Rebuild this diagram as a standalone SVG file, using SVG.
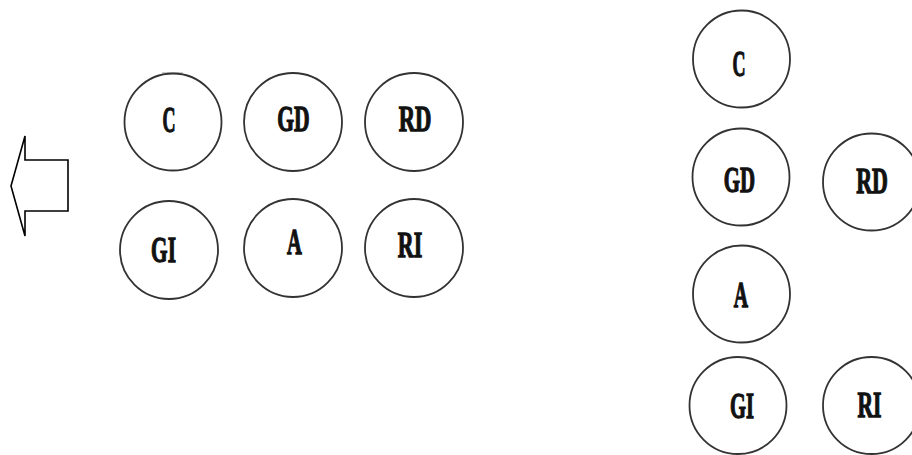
<svg xmlns="http://www.w3.org/2000/svg" width="912" height="455" viewBox="0 0 912 455">
<style>
.n circle{fill:#fff;stroke:#333;stroke-width:1.8}
.n text{font-family:"Liberation Serif","Times New Roman",serif;font-weight:bold;font-size:36px;fill:#111;stroke:#111;stroke-width:1.3;stroke-linejoin:miter;text-anchor:middle}
.arrow{fill:#fff;stroke:#000;stroke-width:1.6;stroke-linejoin:miter}
</style>
<rect width="912" height="455" fill="#fff"/>
<g id="arrow-left">
<polygon class="arrow" points="11,186 25,136 25,160 68,160 68,211 25,211 25,236"/>
</g>
<g id="connectors"></g>
<line x1="162" y1="73" x2="183" y2="73" stroke="#999" stroke-width="1"/>
<g id="left-C" class="n"><circle cx="173" cy="122" r="48.5"/><text transform="translate(169,132) scale(0.5,1)">C</text></g>
<g id="left-GD" class="n"><circle cx="293" cy="122" r="49"/><text transform="translate(293.5,131) scale(0.6,1)">GD</text></g>
<g id="left-RD" class="n"><circle cx="414" cy="122" r="49"/><text transform="translate(415,131) scale(0.63,1)">RD</text></g>
<g id="left-GI" class="n"><circle cx="169" cy="250" r="49"/><text transform="translate(163.5,262) scale(0.59,1)">GI</text></g>
<g id="left-A" class="n"><circle cx="293" cy="248" r="49"/><text transform="translate(294.5,254) scale(0.57,1)">A</text></g>
<g id="left-RI" class="n"><circle cx="414" cy="248" r="49"/><text transform="translate(410,257) scale(0.61,1)">RI</text></g>
<g id="right-C" class="n"><circle cx="741.5" cy="59" r="48.5"/><text transform="translate(739,76) scale(0.5,1)">C</text></g>
<g id="right-GD" class="n"><circle cx="741" cy="177" r="48.5"/><text transform="translate(739.5,192) scale(0.58,1)">GD</text></g>
<g id="right-RD" class="n"><circle cx="871.5" cy="182" r="48.5"/><text transform="translate(872,193) scale(0.61,1)">RD</text></g>
<g id="right-A" class="n"><circle cx="741.5" cy="294" r="48.5"/><text transform="translate(741,307) scale(0.55,1)">A</text></g>
<g id="right-GI" class="n"><circle cx="738" cy="405.5" r="48.5"/><text transform="translate(742,418) scale(0.57,1)">GI</text></g>
<g id="right-RI" class="n"><circle cx="871.5" cy="405.5" r="48.5"/><text transform="translate(869.5,417) scale(0.6,1)">RI</text></g>
</svg>
